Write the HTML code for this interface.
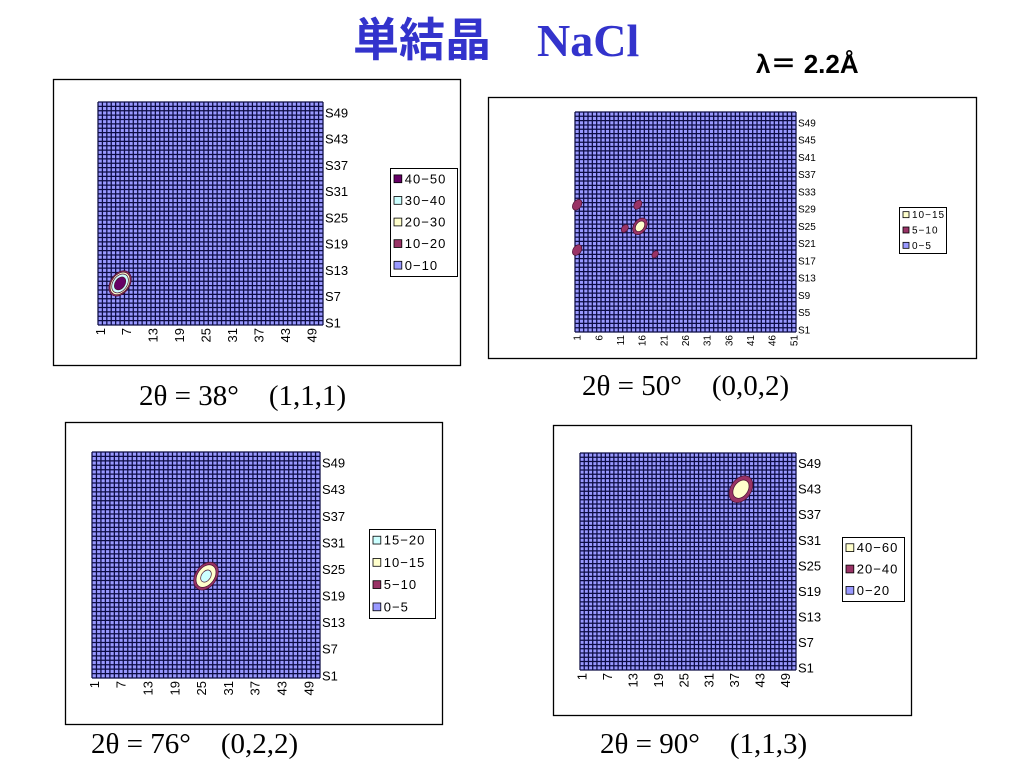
<!DOCTYPE html>
<html><head><meta charset="utf-8">
<style>
html,body{margin:0;padding:0;background:#fff;}
body{width:1024px;height:768px;position:relative;overflow:hidden;font-family:"Liberation Sans","Noto Sans CJK JP",sans-serif;}
.t{position:absolute;white-space:nowrap;}
.cap{font-family:'Liberation Serif',serif;font-size:29px;}
.cap span{margin-left:30px;}
</style></head>
<body>
<div class="t" style="left:353px;top:4px;font-family:'Liberation Serif','Noto Sans CJK JP',serif;font-weight:bold;font-size:46px;color:#3333cc;">単結晶　NaCl</div>
<div class="t" style="left:756px;top:44px;font-weight:bold;font-size:26px;color:#000;">λ<span style="font-family:'Noto Sans CJK JP',sans-serif;">＝</span> 2.2Å</div>
<div class="t cap" style="left:139px;top:380px;">2θ = 38°<span>(1,1,1)</span></div>
<div class="t cap" style="left:582px;top:370px;">2θ = 50°<span>(0,0,2)</span></div>
<div class="t cap" style="left:91px;top:728px;">2θ = 76°<span>(0,2,2)</span></div>
<div class="t cap" style="left:600px;top:728px;">2θ = 90°<span>(1,1,3)</span></div>
<svg id="svg" width="1024" height="768" style="position:absolute;left:0;top:0"></svg>
<script>
// data arrays
const xTicks1 = [1,7,13,19,25,31,37,43,49];
const yTicks1 = ["S1","S7","S13","S19","S25","S31","S37","S43","S49"];
const xTicks2 = [1,6,11,16,21,26,31,36,41,46,51];
const yTicks2 = ["S1","S5","S9","S13","S17","S21","S25","S29","S33","S37","S41","S45","S49"];
const legend1 = ["40-50","30-40","20-30","10-20","0-10"];
const legend2 = ["10-15","5-10","0-5"];
const legend3 = ["15-20","10-15","5-10","0-5"];
const legend4 = ["40-60","20-40","0-20"];
// peaks: [col, row, peak value]
const peaks1 = [[5.5,10,45]];
const peaks2 = [[15.5,25,12],[1,30,6],[1,19.5,6],[15,30,5.6],[12,24.5,5.4],[19,18.5,5.3]];
const peaks3 = [[26,23.5,16]];
const peaks4 = [[38.5,43,50]];

const NS="http://www.w3.org/2000/svg";
const svg=document.getElementById('svg');
function mk(tag,attrs,parent){const e=document.createElementNS(NS,tag);for(const k in attrs)e.setAttribute(k,attrs[k]);(parent||svg).appendChild(e);return e;}
const colorOf={"40-50":"#660066","30-40":"#ccffff","20-30":"#ffffcc","10-20":"#993366","0-10":"#9999ff",
"10-15":"#ffffcc","5-10":"#993366","0-5":"#9999ff","15-20":"#ccffff","40-60":"#ffffcc","20-40":"#993366","0-20":"#9999ff"};

function chart(id,frame,plot,xt,yt,leg,legBox,peaks,fs,R){
  const g=mk('g',{});
  
  
  const fr=mk('rect',{x:frame[0]+0.5,y:frame[1]+0.5,width:frame[2]-frame[0],height:frame[3]-frame[1],fill:'#fff',stroke:'#000','stroke-width':1.3},g);
  
  
  const [x0,y0,x1,y1]=plot;const n=51;const cw=(x1-x0)/n,ch=(y1-y0)/n;
  const sx=v=>x0+(v-0.5)*cw, sy=v=>y1-(v-0.5)*ch;
  const bg=mk('rect',{x:x0,y:y0,width:x1-x0,height:y1-y0,fill:'#9999ff'},g);
  
  
  let d='';
  for(let i=0;i<=n;i++){const x=(x0+i*cw).toFixed(2),y=(y0+i*ch).toFixed(2);d+=`M${x} ${y0}V${y1}M${x0} ${y}H${x1}`;}
  const gl=mk('path',{d:d,stroke:'#0c0c44','stroke-width':1.25,fill:'none'},g);
  
  
  const levels=leg.map(s=>[parseFloat(s.split('-')[0]),s]).sort((a,b)=>a[0]-b[0]).filter(l=>l[0]>0);
  peaks.forEach(p=>{
    levels.forEach(l=>{
      if(l[0]>=p[2])return;
      const k=Math.pow(1-l[0]/p[2],0.35);
      const cx=sx(p[0]),cy=sy(p[1]);
      const e=mk('ellipse',{cx:cx,cy:cy,rx:cw*R*k*1.15,ry:ch*R*k*0.8,fill:colorOf[l[1]],stroke:'#4a1030','stroke-width':0.7,transform:`rotate(-55 ${cx} ${cy})`},g);
      
      
    });
  });
  xt.forEach(v=>{
    const x=sx(v);const t=mk('text',{x:0,y:0,'font-size':fs,transform:`translate(${x+fs*0.35},${y1+3}) rotate(-90)`,'text-anchor':'end'},g);
    t.textContent=v;
    
    
  });
  yt.forEach(s=>{
    const v=parseInt(s.slice(1));const t=mk('text',{x:x1+2,y:sy(v)+fs*0.35,'font-size':fs},g);
    t.textContent=s;
    
    
  });
  const [lx0,ly0,lx1,ly1]=legBox;
  const lb=mk('rect',{x:lx0+0.5,y:ly0+0.5,width:lx1-lx0,height:ly1-ly0,fill:'#fff',stroke:'#000','stroke-width':1},g);
  
  
  const step=(ly1-ly0)/leg.length;
  leg.forEach((s,i)=>{
    const cy=ly0+step*(i+0.5);const sz=fs*0.6;
    const sw=mk('rect',{x:lx0+4,y:cy-sz/2,width:sz,height:sz,fill:colorOf[s],stroke:'#000','stroke-width':0.8},g);
    
    
    const t=mk('text',{x:lx0+7+sz,y:cy+fs*0.35,'font-size':fs,'letter-spacing':1},g);
    t.textContent=s.replace('-','−');
    
    
  });
}
chart('chart-38deg',[53,79,460,365],[98,102,323,325],xTicks1,yTicks1,legend1,[390,168,457,276],peaks1,13,3.0);
chart('chart-50deg',[488,97,976,358],[575,112,796,332],xTicks2,yTicks2,legend2,[899,207,946,253],peaks2,10,2.2);
chart('chart-76deg',[65,422,442,724],[92,452,320,678],xTicks1,yTicks1,legend3,[369,529,435,618],peaks3,13,3.4);
chart('chart-90deg',[553,425,911,715],[580,453,796,670],xTicks1,yTicks1,legend4,[842,537,904,601],peaks4,13,3.6);
</script>
</body></html>
